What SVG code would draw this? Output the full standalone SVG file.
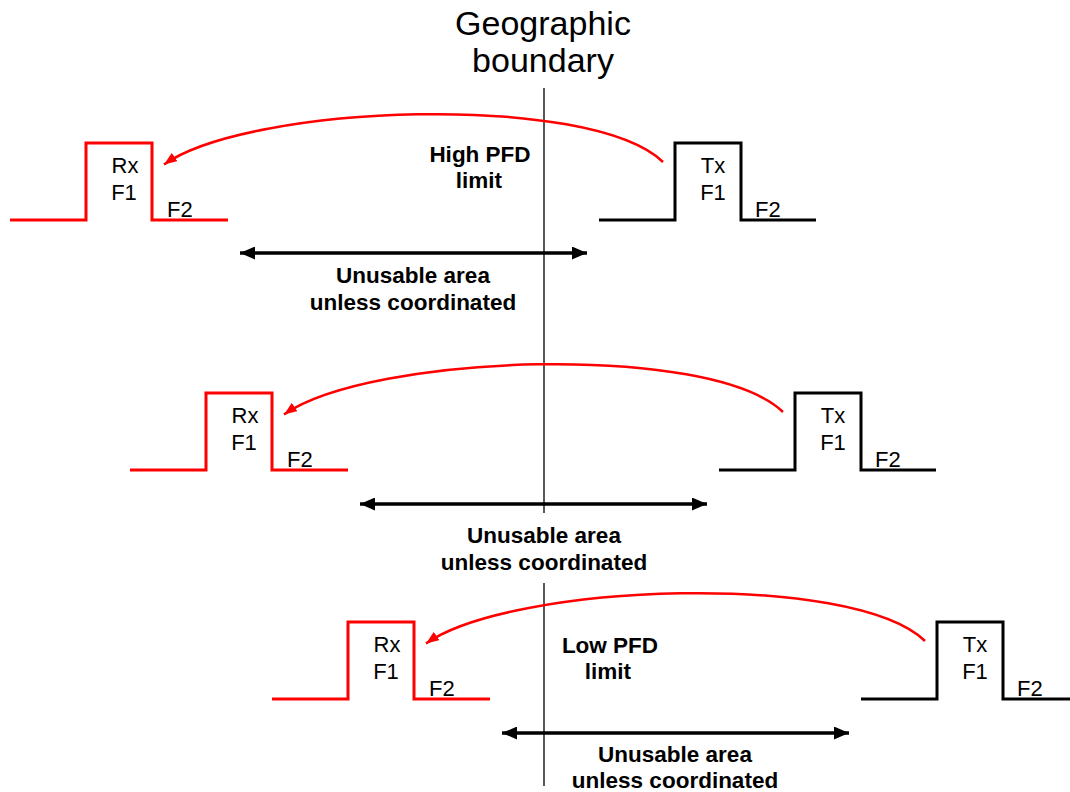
<svg xmlns="http://www.w3.org/2000/svg" width="1070" height="792" viewBox="0 0 1070 792">
  <style>
    .bg { fill: #ffffff; }
    .rx { fill: none; stroke: #ff0000; stroke-width: 3; }
    .tx { fill: none; stroke: #000000; stroke-width: 3; }
    .lbl { font-family: "Liberation Sans", Arial, sans-serif; font-size: 22px; fill: #000000; }
    .mid { text-anchor: middle; }
    .bold { font-family: "Liberation Sans", Arial, sans-serif; font-size: 22.5px; font-weight: bold; fill: #000000; text-anchor: middle; }
    .title { font-family: "Liberation Sans", Arial, sans-serif; font-size: 34px; fill: #000000; text-anchor: middle; }
    .path-link { fill: none; stroke: #ff0000; stroke-width: 2.5; marker-end: url(#redHead); }
    .span { fill: none; stroke: #000000; stroke-width: 3.5; marker-start: url(#blackHead); marker-end: url(#blackHead); }
    .boundary { fill: none; stroke: #000000; stroke-width: 1.3; }
  </style>
  <defs>
    <marker id="redHead" markerUnits="userSpaceOnUse" markerWidth="15" markerHeight="11" refX="13" refY="5" orient="auto">
      <path d="M0,0 L13,5 L0,10 z" fill="#ff0000"/>
    </marker>
    <marker id="blackHead" markerUnits="userSpaceOnUse" markerWidth="16" markerHeight="13" refX="15" refY="6.5" orient="auto-start-reverse">
      <path d="M0,0 L15,6.5 L0,13 z" fill="#000000"/>
    </marker>
  </defs>

  <rect class="bg" x="0" y="0" width="1070" height="792"/>

  <!-- geographic boundary line and its caption -->
  <g id="boundary">
    <text class="title" x="543" y="35">Geographic</text>
    <text class="title" x="543" y="72">boundary</text>
    <path class="boundary" d="M544,88 V513 M544,583 V786"/>
  </g>

  <!-- row 1: high PFD limit -->
  <g id="rx1">
    <path class="rx" d="M10,220 H86 V143 H152 V220 H228"/>
    <text class="lbl mid" x="125" y="173">Rx</text>
    <text class="lbl mid" x="124" y="200">F1</text>
    <text class="lbl" x="167" y="217">F2</text>
  </g>
  <g id="tx1">
    <path class="tx" d="M599,220 H675 V143 H741 V220 H816"/>
    <text class="lbl mid" x="713" y="173">Tx</text>
    <text class="lbl mid" x="713" y="200">F1</text>
    <text class="lbl" x="755" y="217">F2</text>
  </g>
  <g id="label-high">
    <text class="bold" x="480" y="162">High PFD</text>
    <text class="bold" x="479" y="188">limit</text>
  </g>
  <g id="unusable1">
    <text class="bold" x="413" y="283">Unusable area</text>
    <text class="bold" x="413" y="310">unless coordinated</text>
  </g>

  <!-- row 2 -->
  <g id="rx2" transform="translate(120,250)">
    <path class="rx" d="M10,220 H86 V143 H152 V220 H228"/>
    <text class="lbl mid" x="125" y="173">Rx</text>
    <text class="lbl mid" x="124" y="200">F1</text>
    <text class="lbl" x="167" y="217">F2</text>
  </g>
  <g id="tx2" transform="translate(120,250)">
    <path class="tx" d="M599,220 H675 V143 H741 V220 H816"/>
    <text class="lbl mid" x="713" y="173">Tx</text>
    <text class="lbl mid" x="713" y="200">F1</text>
    <text class="lbl" x="755" y="217">F2</text>
  </g>
  <g id="unusable2">
    <text class="bold" x="544" y="543">Unusable area</text>
    <text class="bold" x="544" y="570">unless coordinated</text>
  </g>

  <!-- row 3: low PFD limit -->
  <g id="rx3" transform="translate(262,479)">
    <path class="rx" d="M10,220 H86 V143 H152 V220 H228"/>
    <text class="lbl mid" x="125" y="173">Rx</text>
    <text class="lbl mid" x="124" y="200">F1</text>
    <text class="lbl" x="167" y="217">F2</text>
  </g>
  <g id="tx3" transform="translate(262,479)">
    <path class="tx" d="M599,220 H675 V143 H741 V220 H816"/>
    <text class="lbl mid" x="713" y="173">Tx</text>
    <text class="lbl mid" x="713" y="200">F1</text>
    <text class="lbl" x="755" y="217">F2</text>
  </g>
  <g id="label-low">
    <text class="bold" x="610" y="653">Low PFD</text>
    <text class="bold" x="608" y="679">limit</text>
  </g>
  <g id="unusable3">
    <text class="bold" x="675" y="762">Unusable area</text>
    <text class="bold" x="675" y="788">unless coordinated</text>
  </g>

  <!-- connectors: interference paths Tx to Rx, and unusable-area spans -->
  <g id="connectors">
    <path class="path-link" d="M663,162 C590,92 250,104 164,164.5"/>
    <path class="path-link" transform="translate(120,250)" d="M663,162 C590,92 250,104 164,164.5"/>
    <path class="path-link" transform="translate(262,479)" d="M663,162 C590,92 250,104 164,164.5"/>
    <path class="span" d="M240,253 H587"/>
    <path class="span" d="M360,504 H707"/>
    <path class="span" d="M502,733 H849"/>
  </g>
</svg>
